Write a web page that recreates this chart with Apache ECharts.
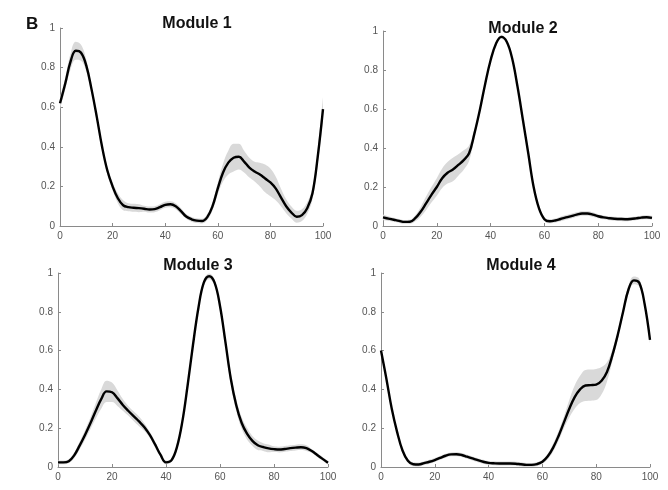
<!DOCTYPE html>
<html>
<head>
<meta charset="utf-8">
<script src="https://cdn.jsdelivr.net/npm/echarts@6/dist/echarts.min.js"></script>
<style>html,body{margin:0;padding:0;background:#fff;}#c{width:668px;height:490px;}</style>
</head>
<body>
<div id="c"></div>
<script>
const xCats = [0,2,4,6,8,10,12,14,16,18,20,22,24,26,28,30,32,34,36,38,40,42,44,46,48,50,52,54,56,58,60,62,64,66,68,70,72,74,76,78,80,82,84,86,88,90,92,94,96,98,100];
const yTicks = [0,0.2,0.4,0.6,0.8,1];
const titles = ['Module 1','Module 2','Module 3','Module 4'];

const mean1 = [0.62,0.72,0.83,0.885,0.875,0.81,0.69,0.55,0.40,0.28,0.20,0.14,0.105,0.095,0.092,0.09,0.087,0.083,0.085,0.095,0.107,0.11,0.10,0.075,0.048,0.034,0.027,0.025,0.045,0.10,0.19,0.27,0.32,0.345,0.35,0.325,0.295,0.275,0.26,0.24,0.22,0.19,0.145,0.10,0.068,0.047,0.055,0.09,0.165,0.35,0.59];
const sd1 = [0.03,0.03,0.04,0.045,0.04,0.03,0.02,0.02,0.02,0.02,0.02,0.025,0.025,0.02,0.02,0.02,0.015,0.015,0.015,0.015,0.015,0.015,0.015,0.015,0.012,0.012,0.012,0.012,0.015,0.02,0.03,0.045,0.06,0.07,0.065,0.055,0.05,0.05,0.06,0.07,0.07,0.06,0.045,0.035,0.03,0.03,0.03,0.03,0.03,0.04,0.06];

const mean2 = [0.044,0.038,0.032,0.026,0.021,0.022,0.04,0.073,0.116,0.16,0.20,0.245,0.273,0.29,0.313,0.338,0.373,0.475,0.595,0.73,0.85,0.935,0.97,0.945,0.86,0.715,0.545,0.373,0.20,0.09,0.035,0.024,0.028,0.036,0.044,0.051,0.058,0.064,0.064,0.058,0.05,0.044,0.04,0.037,0.036,0.035,0.036,0.039,0.043,0.045,0.042];
const sd2 = [0.015,0.012,0.01,0.01,0.01,0.01,0.015,0.025,0.035,0.04,0.045,0.05,0.055,0.06,0.055,0.05,0.04,0.02,0.015,0.01,0.01,0.01,0.01,0.01,0.01,0.01,0.01,0.01,0.01,0.01,0.01,0.01,0.01,0.012,0.012,0.012,0.012,0.012,0.012,0.012,0.01,0.01,0.01,0.01,0.01,0.01,0.01,0.01,0.01,0.01,0.01];

const mean3 = [0.024,0.024,0.03,0.06,0.11,0.165,0.225,0.29,0.35,0.39,0.385,0.355,0.32,0.29,0.262,0.235,0.205,0.165,0.115,0.062,0.024,0.034,0.10,0.23,0.42,0.63,0.82,0.95,0.983,0.95,0.83,0.645,0.455,0.32,0.228,0.172,0.135,0.112,0.103,0.096,0.092,0.09,0.093,0.097,0.10,0.102,0.097,0.082,0.062,0.042,0.022];
const sd3 = [0.01,0.01,0.01,0.015,0.02,0.025,0.03,0.04,0.05,0.055,0.05,0.04,0.03,0.025,0.025,0.025,0.02,0.015,0.015,0.01,0.01,0.01,0.015,0.02,0.02,0.02,0.015,0.015,0.015,0.015,0.02,0.025,0.03,0.03,0.03,0.03,0.025,0.025,0.02,0.02,0.015,0.015,0.015,0.015,0.015,0.015,0.015,0.01,0.01,0.01,0.01];

const mean4 = [0.60,0.455,0.30,0.18,0.085,0.032,0.014,0.013,0.02,0.027,0.036,0.047,0.058,0.065,0.066,0.062,0.053,0.044,0.035,0.027,0.021,0.019,0.018,0.018,0.018,0.017,0.014,0.011,0.011,0.015,0.027,0.055,0.10,0.16,0.23,0.30,0.36,0.40,0.42,0.422,0.425,0.445,0.49,0.575,0.68,0.80,0.915,0.962,0.95,0.84,0.655];
const sd4 = [0.01,0.01,0.01,0.01,0.01,0.01,0.01,0.01,0.01,0.01,0.01,0.01,0.01,0.01,0.01,0.01,0.01,0.01,0.01,0.01,0.01,0.01,0.01,0.01,0.01,0.01,0.01,0.01,0.01,0.01,0.01,0.015,0.02,0.025,0.03,0.045,0.06,0.07,0.08,0.08,0.08,0.07,0.05,0.03,0.02,0.02,0.02,0.02,0.02,0.015,0.015];

const means = [mean1, mean2, mean3, mean4];
const sds = [sd1, sd2, sd3, sd4];

const grids = [
  {left: 60, top: 28, width: 263, height: 198},
  {left: 383, top: 31, width: 269, height: 195},
  {left: 58, top: 273, width: 270, height: 194},
  {left: 381, top: 273, width: 269, height: 194}
];
const titlePos = [[192, 11], [518, 16], [193, 253], [516, 253]];

const FONT = '"Liberation Sans", Arial, sans-serif';
const axisGray = '#8a8a8a';
const labelGray = '#555';

const option = {
  animation: false,
  backgroundColor: '#fff',
  title: [{text: 'B', left: 21, top: 11, textStyle: {fontFamily: FONT, fontSize: 17, fontWeight: 'bold', color: '#111'}}].concat(
    titles.map((t, i) => ({
      text: t, left: titlePos[i][0], top: titlePos[i][1], textAlign: 'center',
      textStyle: {fontFamily: FONT, fontSize: 16, fontWeight: 'bold', color: '#111'}
    }))),
  grid: grids,
  xAxis: grids.map((g, i) => ({
    gridIndex: i, type: 'category', data: xCats, boundaryGap: false,
    axisLine: {lineStyle: {color: axisGray, width: 1}},
    axisTick: {inside: true, length: 3, interval: 9, lineStyle: {color: axisGray}},
    axisLabel: {interval: 9, fontFamily: FONT, fontSize: 10, color: labelGray, margin: 5},
    splitLine: {show: false}
  })),
  yAxis: grids.map((g, i) => ({
    gridIndex: i, type: 'value', min: 0, max: 1, interval: 0.2,
    axisLine: {show: true, lineStyle: {color: axisGray, width: 1}},
    axisTick: {show: true, inside: true, length: 3, lineStyle: {color: axisGray}},
    axisLabel: {fontFamily: FONT, fontSize: 10, color: labelGray, margin: 5,
      formatter: v => yTicks.indexOf(Math.round(v * 10) / 10) >= 0 ? String(Math.round(v * 10) / 10) : ''},
    splitLine: {show: false}
  })),
  series: []
};

means.forEach((m, i) => {
  const sd = sds[i];
  const lower = m.map((v, k) => +(v - sd[k]).toFixed(4));
  const width = sd.map(s => +(2 * s).toFixed(4));
  option.series.push({
    type: 'line', xAxisIndex: i, yAxisIndex: i, stack: 'band' + i, data: lower,
    symbol: 'none', smooth: 0.4, silent: true, lineStyle: {opacity: 0}, z: 1
  });
  option.series.push({
    type: 'line', xAxisIndex: i, yAxisIndex: i, stack: 'band' + i, data: width,
    symbol: 'none', smooth: 0.4, silent: true, lineStyle: {opacity: 0},
    areaStyle: {color: '#d9d9d9', opacity: 1}, z: 1
  });
  option.series.push({
    type: 'line', xAxisIndex: i, yAxisIndex: i, data: m,
    symbol: 'none', smooth: 0.4, lineStyle: {color: '#000', width: 2.4}, z: 3
  });
});

const chart = echarts.init(document.getElementById('c'), null, {renderer: 'canvas'});
chart.setOption(option);
</script>
</body>
</html>
